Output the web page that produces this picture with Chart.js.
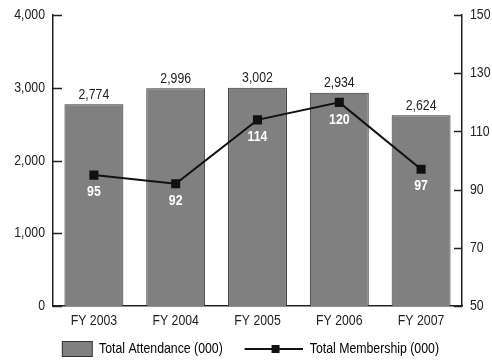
<!DOCTYPE html>
<html>
<head>
<meta charset="utf-8">
<script src="https://cdn.jsdelivr.net/npm/chart.js@4.4.1/dist/chart.umd.min.js"></script>
<style>
  html, body { margin: 0; padding: 0; background: #fff; }
</style>
</head>
<body>
<canvas id="myChart" width="492" height="360"></canvas>
<script>
// data
var years = ['FY 2003', 'FY 2004', 'FY 2005', 'FY 2006', 'FY 2007'];
var attendance = [2774, 2996, 3002, 2934, 2624];   // Total Attendance (000)
var membership = [95, 92, 114, 120, 97];           // Total Membership (000)
var leftTicks = [0, 1000, 2000, 3000, 4000];
var rightTicks = [50, 70, 90, 110, 130, 150];

var FONT = '"Liberation Sans", Arial, sans-serif';
var INK = '#222';
var BAR = '#808080';
var SX = 0.82;   // no narrow face installed, so squeeze the text horizontally

Chart.defaults.font.family = FONT;
Chart.defaults.font.size = 15;
Chart.defaults.color = INK;

var ctx = document.getElementById('myChart').getContext('2d');

// condensed text: scale every fillText / measureText on this context
var rawFill = ctx.fillText.bind(ctx);
var rawMeasure = ctx.measureText.bind(ctx);
ctx.fillText = function(t, x, y, mw) {
  ctx.save();
  ctx.translate(x, y);
  ctx.scale(SX, 1);
  if (mw !== undefined) rawFill(t, 0, 0, mw / SX); else rawFill(t, 0, 0);
  ctx.restore();
};
ctx.measureText = function(t) {
  var m = rawMeasure(t);
  return {
    width: m.width * SX,
    actualBoundingBoxAscent: m.actualBoundingBoxAscent,
    actualBoundingBoxDescent: m.actualBoundingBoxDescent,
    actualBoundingBoxLeft: m.actualBoundingBoxLeft * SX,
    actualBoundingBoxRight: m.actualBoundingBoxRight * SX
  };
};

// legend icons (drawn centred on a 67.5px legend box)
function barIcon() {
  var c = document.createElement('canvas');
  c.width = 76; c.height = 18;
  var g = c.getContext('2d');
  g.fillStyle = BAR;
  g.fillRect(42, 1, 31, 16);
  g.strokeStyle = '#333';
  g.lineWidth = 1;
  g.strokeRect(42.5, 1.5, 30, 15);
  return c;
}
function lineIcon() {
  var c = document.createElement('canvas');
  c.width = 68; c.height = 10;
  var g = c.getContext('2d');
  g.strokeStyle = '#111';
  g.lineWidth = 2;
  g.beginPath(); g.moveTo(10, 5); g.lineTo(68, 5); g.stroke();
  g.fillStyle = '#111';
  g.fillRect(37, 1, 8, 8);
  return c;
}

// value labels + inward tick marks
var extras = {
  id: 'extras',
  afterDatasetsDraw: function(chart) {
    var c = chart.ctx;
    c.save();
    c.textAlign = 'center';

    c.font = '15px ' + FONT;
    c.fillStyle = INK;
    c.textBaseline = 'bottom';
    chart.getDatasetMeta(0).data.forEach(function(bar, i) {
      c.fillText(attendance[i].toLocaleString('en-US'), bar.x, bar.y - 2);
    });

    c.font = 'bold 15px ' + FONT;
    c.fillStyle = '#fff';
    c.textBaseline = 'middle';
    chart.getDatasetMeta(1).data.forEach(function(pt, i) {
      c.fillText(String(membership[i]), pt.x, pt.y + 17);
    });

    c.strokeStyle = INK;
    c.lineWidth = 1.5;
    var yl = chart.scales.y, yr = chart.scales.y1;
    leftTicks.forEach(function(v) {
      var p = Math.round(yl.getPixelForValue(v)) + 0.5;
      c.beginPath(); c.moveTo(yl.right, p); c.lineTo(yl.right + 9, p); c.stroke();
    });
    rightTicks.forEach(function(v) {
      var p = Math.round(yr.getPixelForValue(v)) + 0.5;
      c.beginPath(); c.moveTo(yr.left, p); c.lineTo(yr.left - 8, p); c.stroke();
    });
    c.restore();
  }
};

var chart = new Chart(ctx, {
  type: 'bar',
  data: {
    labels: years,
    datasets: [{
      type: 'bar',
      label: 'Total Attendance (000)',
      data: attendance,
      yAxisID: 'y',
      backgroundColor: BAR,
      borderColor: '#333',
      borderWidth: 1,
      barPercentage: 0.72,
      categoryPercentage: 1,
      order: 2
    }, {
      type: 'line',
      label: 'Total Membership (000)',
      data: membership,
      yAxisID: 'y1',
      borderColor: '#111',
      borderWidth: 2,
      pointStyle: 'rect',
      pointRadius: 5,
      pointBackgroundColor: '#111',
      pointBorderColor: '#111',
      tension: 0,
      order: 1
    }]
  },
  options: {
    responsive: false,
    devicePixelRatio: 1,
    animation: false,
    layout: { padding: { top: 4, left: -29, right: 0, bottom: -6.5 } },
    plugins: {
      tooltip: { enabled: false },
      legend: {
        position: 'bottom',
        labels: {
          usePointStyle: true,
          pointStyleWidth: 67.5,
          padding: 12,
          color: INK,
          font: { size: 15 },
          generateLabels: function() {
            return [
              { text: 'Total Attendance (000)', pointStyle: barIcon(), fillStyle: BAR, strokeStyle: '#333', lineWidth: 0, datasetIndex: 0 },
              { text: 'Total Membership (000)', pointStyle: lineIcon(), fillStyle: '#111', strokeStyle: '#111', lineWidth: 0, datasetIndex: 1 }
            ];
          }
        }
      }
    },
    scales: {
      x: {
        grid: { display: false, drawTicks: false },
        border: { display: true, color: INK, width: 1.5 },
        ticks: { padding: 6 },
        afterFit: function(s) { s.height = 23.5; }
      },
      y: {
        position: 'left',
        min: 0, max: 4000,
        grid: { display: false, drawTicks: false },
        border: { display: true, color: INK, width: 1.5 },
        ticks: {
          stepSize: 1000, padding: 8,
          font: { size: 15, lineHeight: 0.95 },
          callback: function(v) { return v.toLocaleString('en-US'); }
        },
        afterFit: function(s) { s.width = 82; }
      },
      y1: {
        position: 'right',
        min: 50, max: 150,
        grid: { display: false, drawTicks: false },
        border: { display: true, color: INK, width: 1.5 },
        ticks: { stepSize: 20, padding: 8, font: { size: 15, lineHeight: 0.95 } },
        afterFit: function(s) { s.width = 30; }
      }
    }
  },
  plugins: [extras]
});
</script>
</body>
</html>
